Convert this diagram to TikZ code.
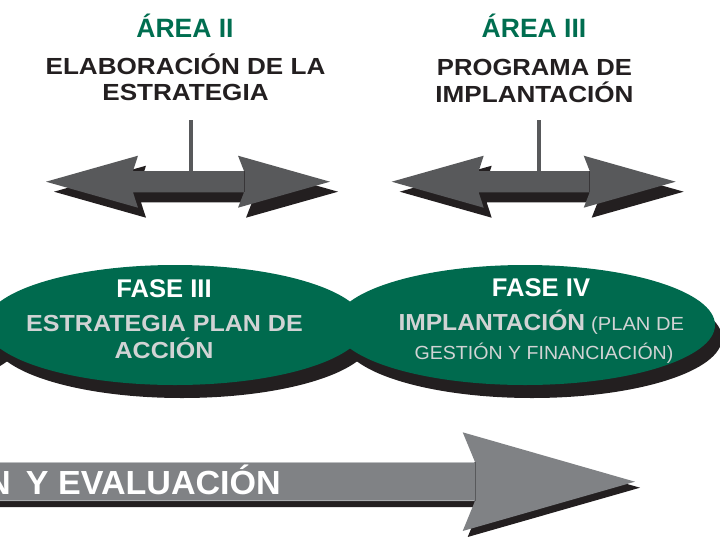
\documentclass[tikz,border=0pt]{standalone}
\usepackage{fontspec}
\setmainfont{Liberation Sans}
\usepackage{graphicx}
\definecolor{fgreen}{RGB}{0,106,78}
\definecolor{tgreen}{RGB}{0,110,80}
\definecolor{darkgrey}{RGB}{88,89,91}
\definecolor{shadowc}{RGB}{35,31,32}
\definecolor{midgrey}{RGB}{128,130,133}
\definecolor{lightedge}{RGB}{188,190,192}
\definecolor{lighttext}{RGB}{209,211,212}
\definecolor{tblack}{RGB}{35,31,32}
\newcommand\dblarrowpath{(0,0) -- (92,-26) -- (87,-10.7) -- (198,-10.7) -- (192,-26) -- (284,0) -- (192,26) -- (198,10.7) -- (87,10.7) -- (92,26) -- cycle}
\tikzset{
  areatitle/.style={text=tgreen, font=\fontsize{26.5}{30}\selectfont\bfseries, inner sep=0, anchor=base},
  blacktitle/.style={text=tblack, font=\fontsize{23.3}{28}\selectfont\bfseries, inner sep=0, anchor=base},
  fasetitle/.style={text=white, font=\fontsize{25.6}{30}\selectfont\bfseries, inner sep=0, anchor=base},
  fasetext/.style={text=lighttext, font=\fontsize{23.2}{28}\selectfont\bfseries, inner sep=0, anchor=base},
  faseplain/.style={text=lighttext, font=\fontsize{19}{23}\selectfont, inner sep=0, anchor=base},
  stem/.style={draw=darkgrey, line width=4.5pt},
  pics/dblarrow/.style={code={
    \fill[shadowc, shift={(8,10)}] \dblarrowpath;
    \fill[darkgrey] \dblarrowpath;
    \draw[shadowc!60!darkgrey, line width=0.5pt] (198,-10.7) -- (198,10.7);
  }},
  faseshadow/.style={fill=shadowc},
  fasefill/.style={fill=fgreen},
}
\begin{document}
\begin{tikzpicture}[x=1pt,y=-1pt]
\useasboundingbox (0,0) rectangle (720,536);
\clip (0,0) rectangle (720,536);

% top double arrows
\pic (arrowA) at (46,181.7) {dblarrow};
\pic (arrowB) at (391.7,181.7) {dblarrow};

% stems
\coordinate (stemAtop) at (191,120);
\coordinate (stemAbot) at (191,172);
\coordinate (stemBtop) at (539,120);
\coordinate (stemBbot) at (539,172);
\draw[stem] (stemAtop) -- (stemAbot);
\draw[stem] (stemBtop) -- (stemBbot);

% titles
\node[areatitle] (area2) at (185,37.3) {ÁREA II};
\node[blacktitle] (area2a) at (185.5,74.3) {\scalebox{1.12}[1]{ELABORACIÓN DE LA}};
\node[blacktitle] (area2b) at (185.5,100.3) {\scalebox{1.12}[1]{ESTRATEGIA}};
\node[areatitle] (area3) at (534,37.3) {ÁREA III};
\node[blacktitle] (area3a) at (534.5,75.5) {\scalebox{1.1}[1]{PROGRAMA DE}};
\node[blacktitle] (area3b) at (534.5,102.8) {\scalebox{1.12}[1]{IMPLANTACIÓN}};

% phase ellipses: shadows first
\foreach \cx in {-175,175,525}
  \fill[faseshadow] (\cx+7,338) ellipse [x radius=190pt, y radius=60pt];
\foreach \cx in {-175,175,525}
  \fill[fasefill] (\cx,325) ellipse [x radius=190pt, y radius=60pt];

\node[fasetitle] (f3t) at (164,297.7) {FASE III};
\node[fasetext] (f3a) at (164.5,331.7) {\scalebox{1.08}[1]{ESTRATEGIA PLAN DE}};
\node[fasetext] (f3b) at (164,358.3) {\scalebox{1.08}[1]{ACCIÓN}};

\node[fasetitle] (f4t) at (541,296.7) {FASE IV};
\node[fasetext] (f4a) at (541.3,330.5) {\scalebox{1.06}[1]{IMPLANTACIÓN}\hspace{6pt}{\fontsize{19}{23}\selectfont\mdseries\scalebox{1.06}[1]{(PLAN DE}}};
\node[faseplain] (f4b) at (544,359.2) {\scalebox{1.03}[1]{GESTIÓN Y FINANCIACIÓN)}};

% bottom arrow
\fill[shadowc, shift={(5,6)}] (-20,462) -- (475,462) -- (462.7,432.3) -- (635,481.7) -- (462.7,531) -- (475,501) -- (-20,501) -- cycle;
\fill[midgrey] (-20,462) -- (475,462) -- (462.7,432.3) -- (635,481.7) -- (462.7,531) -- (475,501) -- (-20,501) -- cycle;
\draw[lightedge, line width=0.8pt] (-20,462.4) -- (474,462.4);
\draw[lightedge!70!midgrey, line width=0.8pt] (-20,500.6) -- (474,500.6);
\draw[darkgrey, line width=0.5pt] (475,462) -- (475,501);
\node[text=white, font=\fontsize{33.4}{38}\selectfont\bfseries, inner sep=0, anchor=base east] (evaltext) at (281,494) {N\hspace{6pt} \scalebox{1.02}[1]{Y EVALUACIÓN}};
\end{tikzpicture}
\end{document}
